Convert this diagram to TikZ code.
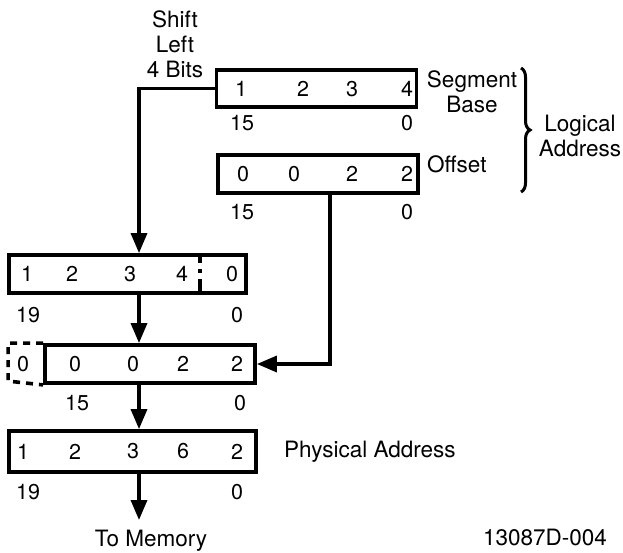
\documentclass[tikz,border=0pt]{standalone}
\usepackage{fontspec}
\setmainfont{TeX Gyre Heros}
\usetikzlibrary{arrows.meta,decorations.pathreplacing}
\begin{document}
\begin{tikzpicture}[x=1pt,y=-1pt,
  reg/.style={draw, line width=3.8pt, inner sep=0pt},
  txt/.style={font=\fontsize{22.5}{25}\selectfont, inner sep=0pt},
  dig/.style={font=\fontsize{21.5}{25}\selectfont, inner sep=0pt},
  conn/.style={line width=3.4pt, -{Triangle[length=20pt,width=16pt]}},
  dashbox/.style={line width=3.6pt, dash pattern=on 7pt off 6pt},
  divider/.style={line width=3.6pt, dash pattern=on 10pt off 6pt on 4pt off 6pt on 20pt},
  bracestyle/.style={line width=3pt, decorate, decoration={brace, amplitude=9pt}}]
\useasboundingbox (0,0) rectangle (623,552);
% helper coordinates
\coordinate (spine) at (139,0);
\coordinate (offx) at (330,0);
\coordinate (divx) at (200,0);
% registers
\node[reg, minimum width=200pt, minimum height=37pt] (seg) at (316.5,88.5) {};
\node[reg, minimum width=200pt, minimum height=38pt] (off) at (318,174) {};
\node[reg, minimum width=237pt, minimum height=38pt] (box2) at (127.5,274) {};
\node[reg, minimum width=210pt, minimum height=38pt] (box3) at (150,364) {};
\node[reg, minimum width=247pt, minimum height=41pt] (box4) at (132.5,451.5) {};
% segment digits
\node[dig] (s1) at (241,89) {1};
\node[dig] (s2) at (303,89) {2};
\node[dig] (s3) at (352,89) {3};
\node[dig] (s4) at (407,89) {4};
\node[dig] (s15) at (242,123) {15};
\node[dig] (s0) at (407,123) {0};
% offset digits
\node[dig] (o1) at (243,174) {0};
\node[dig] (o2) at (294,174) {0};
\node[dig] (o3) at (352,174) {2};
\node[dig] (o4) at (407,174) {2};
\node[dig] (o15) at (242,212) {15};
\node[dig] (o0) at (407,212) {0};
% box2 digits
\node[dig] (a1) at (27,274) {1};
\node[dig] (a2) at (72,274) {2};
\node[dig] (a3) at (130,274) {3};
\node[dig] (a4) at (182,274) {4};
\node[dig] (a5) at (232,274) {0};
\node[dig] (a19) at (28,315) {19};
\node[dig] (a0) at (237,315) {0};
\draw[divider] (box2.north -| divx) -- (box2.south -| divx);
% box3 digits
\draw[dashbox] (box3.north west) -- ++(-35,0) -- ++(0,38) -- (box3.south west);
\node[dig] (b1) at (23,364) {0};
\node[dig] (b2) at (75,364) {0};
\node[dig] (b3) at (133,364) {0};
\node[dig] (b4) at (183,364) {2};
\node[dig] (b5) at (237,364) {2};
\node[dig] (b15) at (77,403) {15};
\node[dig] (b0) at (240,403) {0};
% box4 digits
\node[dig] (c1) at (23,451.5) {1};
\node[dig] (c2) at (75,451.5) {2};
\node[dig] (c3) at (133,451.5) {3};
\node[dig] (c4) at (183,451.5) {6};
\node[dig] (c5) at (237,451.5) {2};
\node[dig] (c19) at (28,492) {19};
\node[dig] (c0) at (237,492) {0};
% labels
\node[txt, align=center] (shift) at (175,44) {Shift\\Left\\4 Bits};
\node[txt, align=center] (segl) at (472,92) {Segment\\Base};
\node[txt, anchor=west] (offl) at (427,164) {Offset};
\node[txt, align=center] (logl) at (580,136) {Logical\\Address};
\node[txt, anchor=west] (phys) at (284,451.5) {Physical Address};
\node[txt, anchor=north] (mem) at (151,530) {To Memory};
\node[txt, anchor=south] (fig) at (545,546) {13087D-004};
% brace
\coordinate (btop) at (521,68);
\coordinate (bbot) at (521,192);
\draw[bracestyle] (btop) -- (bbot);
% connectors
\draw[conn] (seg.west) -| (spine |- box2.north);
\draw[conn] (spine |- box2.south) -- (spine |- box3.north);
\draw[conn] (off.south -| offx) |- (box3.east);
\draw[conn] (spine |- box3.south) -- (spine |- box4.north);
\draw[conn, shorten >=10pt] (spine |- box4.south) -- (spine |- mem.north);
\end{tikzpicture}
\end{document}
